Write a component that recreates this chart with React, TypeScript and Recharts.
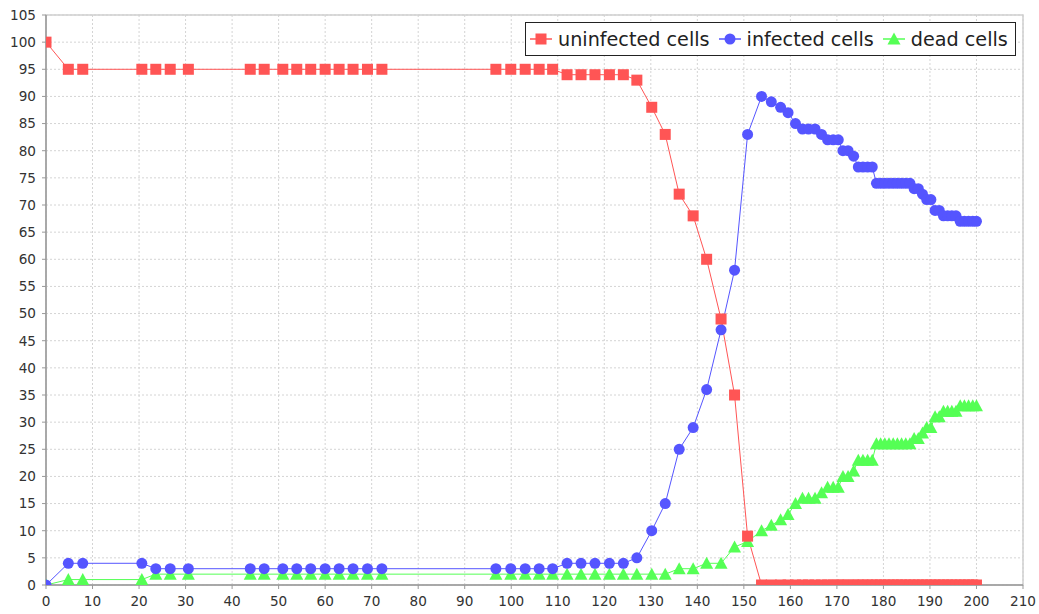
import React from 'react';
import { LineChart, Line, XAxis, YAxis, CartesianGrid, ReferenceArea } from 'recharts';

const times = [
  0, 4.8, 7.9, 20.6, 23.6, 26.7, 30.6, 43.9, 46.9, 50.9, 53.9, 56.9, 60, 63, 66, 69.1, 72.2,
  96.7, 99.9, 103, 106, 108.9, 112, 115, 118, 121.1, 124.1, 127, 130.2, 133.1, 136.1, 139.1, 142, 145.1, 148, 150.8,
  153.8, 155.9, 157.9, 159.5, 161.1, 162.6, 163.9, 165.3, 166.7, 168, 169.2, 170.3, 171.3, 172.4, 173.6,
  174.6, 175.6, 176.6, 177.6, 178.5, 179.4, 180.3, 181.2, 182.1, 183, 183.9, 184.8, 185.7, 186.6, 187.5,
  188.4, 189.3, 190.2, 191.1, 192, 192.9, 193.8, 194.7, 195.6, 196.5, 197.4, 198.3, 199.2, 200,
];

const uninfected = [
  100, 95, 95, 95, 95, 95, 95, 95, 95, 95, 95, 95, 95, 95, 95, 95, 95,
  95, 95, 95, 95, 95, 94, 94, 94, 94, 94, 93, 88, 83, 72, 68, 60, 49, 35, 9,
  0, 0, 0, 0, 0, 0, 0, 0, 0, 0, 0, 0, 0, 0, 0,
  0, 0, 0, 0, 0, 0, 0, 0, 0, 0, 0, 0, 0, 0, 0,
  0, 0, 0, 0, 0, 0, 0, 0, 0, 0, 0, 0, 0, 0,
];

const infected = [
  0, 4, 4, 4, 3, 3, 3, 3, 3, 3, 3, 3, 3, 3, 3, 3, 3,
  3, 3, 3, 3, 3, 4, 4, 4, 4, 4, 5, 10, 15, 25, 29, 36, 47, 58, 83,
  90, 89, 88, 87, 85, 84, 84, 84, 83, 82, 82, 82, 80, 80, 79,
  77, 77, 77, 77, 74, 74, 74, 74, 74, 74, 74, 74, 74, 73, 73,
  72, 71, 71, 69, 69, 68, 68, 68, 68, 67, 67, 67, 67, 67,
];

const dead = [
  0, 1, 1, 1, 2, 2, 2, 2, 2, 2, 2, 2, 2, 2, 2, 2, 2,
  2, 2, 2, 2, 2, 2, 2, 2, 2, 2, 2, 2, 2, 3, 3, 4, 4, 7, 8,
  10, 11, 12, 13, 15, 16, 16, 16, 17, 18, 18, 18, 20, 20, 21,
  23, 23, 23, 23, 26, 26, 26, 26, 26, 26, 26, 26, 26, 27, 27,
  28, 29, 29, 31, 31, 32, 32, 32, 32, 33, 33, 33, 33, 33,
];

const xTicks = [0, 10, 20, 30, 40, 50, 60, 70, 80, 90, 100, 110, 120, 130, 140, 150, 160, 170, 180, 190, 200, 210];
const yTicks = [0, 5, 10, 15, 20, 25, 30, 35, 40, 45, 50, 55, 60, 65, 70, 75, 80, 85, 90, 95, 100, 105];

const seriesNames = ['uninfected cells', 'infected cells', 'dead cells'];

const data = times.map((t, i) => ({ t, uninfected: uninfected[i], infected: infected[i], dead: dead[i] }));

const RED = '#FF5555';
const BLUE = '#5555FF';
const GREEN = '#55FF55';
const FONT = '"DejaVu Sans", sans-serif';

function shape(kind: string, cx: number, cy: number, color: string, key?: string) {
  if (kind === 'square') {
    const s = 11;
    return <rect key={key} x={cx - s / 2} y={cy - s / 2} width={s} height={s} fill={color} />;
  }
  if (kind === 'circle') {
    return <circle key={key} cx={cx} cy={cy} r={5.5} fill={color} />;
  }
  return (
    <polygon
      key={key}
      points={`${cx},${cy - 6.5} ${cx + 6.5},${cy + 5.5} ${cx - 6.5},${cy + 5.5}`}
      fill={color}
    />
  );
}

const makeDot = (kind: string, color: string) => (props: any) => {
  const { cx, cy, index } = props;
  if (cx == null || cy == null) return <g key={`e-${kind}-${index}`} />;
  return shape(kind, cx, cy, color, `${kind}-${index}`);
};

const legendItems = [
  { name: seriesNames[0], color: RED, kind: 'square' },
  { name: seriesNames[1], color: BLUE, kind: 'circle' },
  { name: seriesNames[2], color: GREEN, kind: 'triangle' },
];

export default function App() {
  return (
    <div style={{ position: 'absolute', left: 0, top: 0, width: 1039, height: 614, background: '#fff' }}>
      <LineChart
        width={1039}
        height={614}
        data={data}
        margin={{ top: 15, right: 16, bottom: 0, left: 0 }}
        style={{ fontFamily: FONT }}
      >
        <CartesianGrid stroke="#d4d4d4" strokeDasharray="2 2" horizontal vertical />
        <ReferenceArea x1={0} x2={210} y1={0} y2={105} fill="none" stroke="#cfcfcf" strokeWidth={1.5} ifOverflow="visible" />
        <XAxis
          type="number"
          dataKey="t"
          domain={[0, 210]}
          ticks={xTicks}
          interval={0}
          height={29}
          tickSize={4}
          tickMargin={7}
          axisLine={{ stroke: '#999', strokeWidth: 1.5 }}
          tickLine={{ stroke: '#999' }}
          tick={{ fill: '#333', fontSize: 13.6, fontFamily: FONT }}
          allowDataOverflow
        />
        <YAxis
          type="number"
          domain={[0, 105]}
          ticks={yTicks}
          interval={0}
          width={46}
          tickSize={4}
          tickMargin={6}
          axisLine={{ stroke: '#999', strokeWidth: 1.5 }}
          tickLine={{ stroke: '#999' }}
          tick={{ fill: '#333', fontSize: 13.6, fontFamily: FONT }}
          allowDataOverflow
        />
        <Line dataKey="dead" stroke={GREEN} strokeWidth={1} dot={false} isAnimationActive={false} />
        <Line dataKey="infected" stroke={BLUE} strokeWidth={1} dot={false} isAnimationActive={false} />
        <Line dataKey="uninfected" stroke={RED} strokeWidth={1} dot={false} isAnimationActive={false} />
        <Line dataKey="dead" stroke="none" dot={makeDot('triangle', GREEN)} activeDot={false} isAnimationActive={false} />
        <Line dataKey="infected" stroke="none" dot={makeDot('circle', BLUE)} activeDot={false} isAnimationActive={false} />
        <Line dataKey="uninfected" stroke="none" dot={makeDot('square', RED)} activeDot={false} isAnimationActive={false} />
      </LineChart>
      <div
        style={{
          position: 'absolute',
          left: 525,
          top: 22,
          width: 491,
          height: 34,
          boxSizing: 'border-box',
          border: '1.5px solid #222',
          background: '#fff',
          display: 'flex',
          alignItems: 'center',
          paddingLeft: 4,
          fontFamily: FONT,
          fontSize: 19.2,
          color: '#222',
          whiteSpace: 'nowrap',
        }}
      >
        {legendItems.map((it, i) => (
          <div key={it.name} style={{ display: 'flex', alignItems: 'center', marginRight: i < 2 ? 9 : 0 }}>
            <svg width={22} height={14} style={{ marginRight: 6 }}>
              <line x1={0} y1={7} x2={22} y2={7} stroke={it.color} strokeWidth={1.5} />
              {shape(it.kind, 11, 7, it.color)}
            </svg>
            <span>{it.name}</span>
          </div>
        ))}
      </div>
    </div>
  );
}
